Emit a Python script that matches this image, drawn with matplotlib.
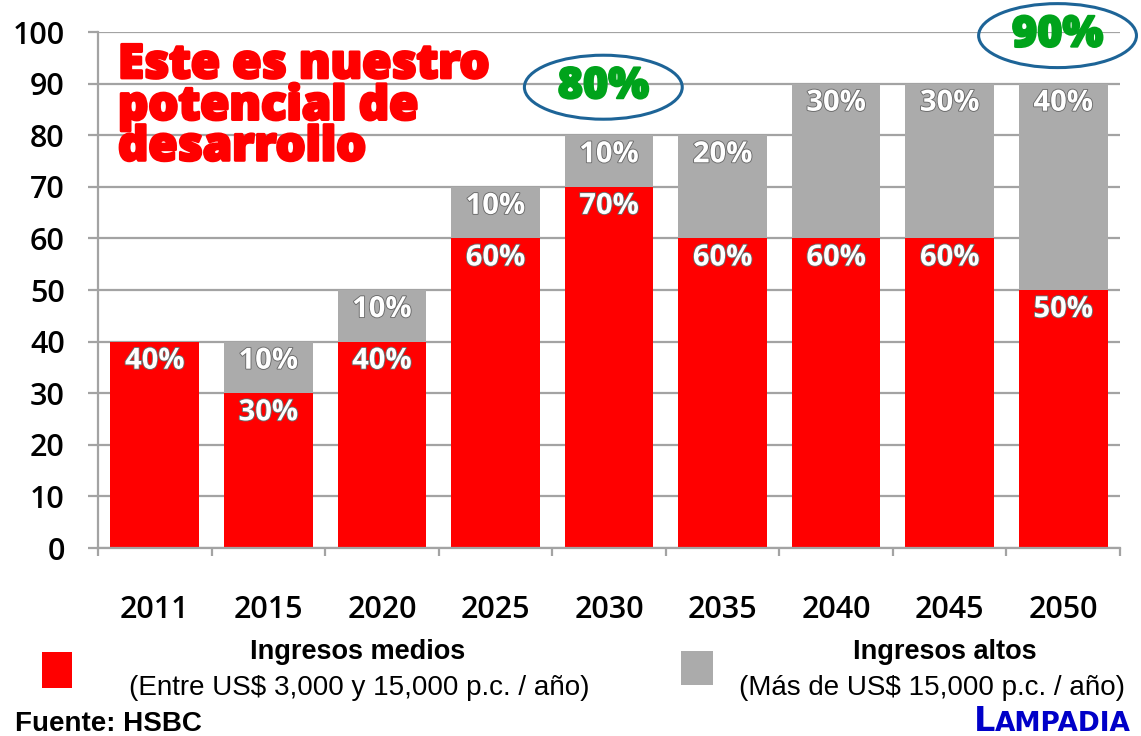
import matplotlib
matplotlib.use("Agg")
import matplotlib.pyplot as plt
import matplotlib.patheffects as pe
from matplotlib.patches import Ellipse, Rectangle
import numpy as np

years = ["2011", "2015", "2020", "2025", "2030", "2035", "2040", "2045", "2050"]
medios = [40, 30, 40, 60, 70, 60, 60, 60, 50]
altos = [0, 10, 10, 10, 10, 20, 30, 30, 40]
destacados = {"2030": "80%", "2050": "90%"}

RED = "#ff0000"
GRAY = "#ababab"
GRID = "#a3a3a3"

fig = plt.figure(figsize=(11.41, 7.36), dpi=100)
fig.patch.set_facecolor("white")
ax = fig.add_axes([98 / 1141, 1 - 548 / 736, (1120 - 98) / 1141, (548 - 32) / 736])

x = np.arange(len(years))
w = 0.78
ax.bar(x, medios, width=w, color=RED, zorder=2)
ax.bar(x, altos, width=w, bottom=medios, color=GRAY, zorder=2)

outline = [pe.withStroke(linewidth=1.3, foreground="#6a6a6a")]
for i in range(len(years)):
    ax.text(x[i], medios[i] - 3.8, f"{medios[i]}%", ha="center", va="center",
            fontsize=21, fontweight="bold", color="white", family="Open Sans",
            path_effects=outline, zorder=3)
    if altos[i] > 0:
        top = medios[i] + altos[i]
        ax.text(x[i], top - 3.8, f"{altos[i]}%", ha="center", va="center",
                fontsize=21, fontweight="bold", color="white", family="Open Sans",
                path_effects=outline, zorder=3)

# callouts with total share
for yr, lab in destacados.items():
    i = years.index(yr)
    total = medios[i] + altos[i]
    cy = total + 9.3
    ax.add_patch(Ellipse((x[i] - 0.05, cy), 1.39, 12.4, facecolor="none",
                         edgecolor="#1d6497", linewidth=2.2, clip_on=False, zorder=4))
    ax.text(x[i] - 0.05, cy, lab, ha="center", va="center", fontsize=31,
            fontweight="heavy", color="#00a31b", family="Open Sans", zorder=5,
            clip_on=False, path_effects=[pe.withStroke(linewidth=1.5, foreground="#00a31b")])

ax.set_xlim(-0.5, len(years) - 0.5)
ax.set_ylim(0, 100)
ax.set_yticks(range(0, 101, 10))
ax.set_xticks(x)
ax.set_xticklabels(years)
ax.set_xticks(np.arange(-0.5, len(years)), minor=True)
ax.yaxis.grid(True, color=GRID, linewidth=1.6, zorder=0)
ax.set_axisbelow(True)
for s in ["top", "right"]:
    ax.spines[s].set_visible(False)
for s in ["left", "bottom"]:
    ax.spines[s].set_color(GRID)
    ax.spines[s].set_linewidth(1.6)
ax.tick_params(axis="y", length=7, width=1.6, color=GRID, pad=17, labelsize=22)
ax.tick_params(axis="x", which="major", length=0, pad=34, labelsize=22)
ax.tick_params(axis="x", which="minor", length=6, width=1.6, color=GRID)
for t in ax.get_xticklabels() + ax.get_yticklabels():
    t.set_family("Open Sans")
    t.set_fontweight("semibold")

fig.text(118 / 1141, 1 - 42 / 736, "Este es nuestro\npotencial de\ndesarrollo",
         ha="left", va="top", fontsize=34, fontweight="heavy", color=RED,
         family="Open Sans", linespacing=0.8,
         path_effects=[pe.withStroke(linewidth=2, foreground=RED)])

# legend
fig.patches.append(Rectangle((42 / 1141, 1 - 688 / 736), 30 / 1141, 36 / 736,
                             facecolor=RED, edgecolor="none", transform=fig.transFigure))
fig.patches.append(Rectangle((681 / 1141, 1 - 685 / 736), 32 / 1141, 34 / 736,
                             facecolor=GRAY, edgecolor="none", transform=fig.transFigure))
fig.text(358 / 1141, 1 - 652 / 736, "Ingresos medios", ha="center", va="center",
         fontsize=19.5, fontweight="bold", family="Liberation Sans")
fig.text(359 / 1141, 1 - 688 / 736, "(Entre US$ 3,000 y 15,000 p.c. / año)",
         ha="center", va="center", fontsize=20, family="Liberation Sans")
fig.text(945 / 1141, 1 - 652 / 736, "Ingresos altos", ha="center", va="center",
         fontsize=19.5, fontweight="bold", family="Liberation Sans")
fig.text(932 / 1141, 1 - 688 / 736, "(Más de US$ 15,000 p.c. / año)",
         ha="center", va="center", fontsize=20, family="Liberation Sans")
fig.text(15 / 1141, 1 - 724 / 736, "Fuente: HSBC", ha="left", va="center",
         fontsize=20, fontweight="bold", family="Liberation Sans")
fig.text(995 / 1141, 1 - 731 / 736, "AMPADIA", ha="left", va="baseline",
         fontsize=19, fontweight="bold", color="#0000c8", family="DejaVu Sans")
fig.text(995 / 1141, 1 - 731 / 736, "L", ha="right", va="baseline",
         fontsize=24, fontweight="bold", color="#0000c8", family="DejaVu Sans")

fig.savefig("out.png", dpi=100)
